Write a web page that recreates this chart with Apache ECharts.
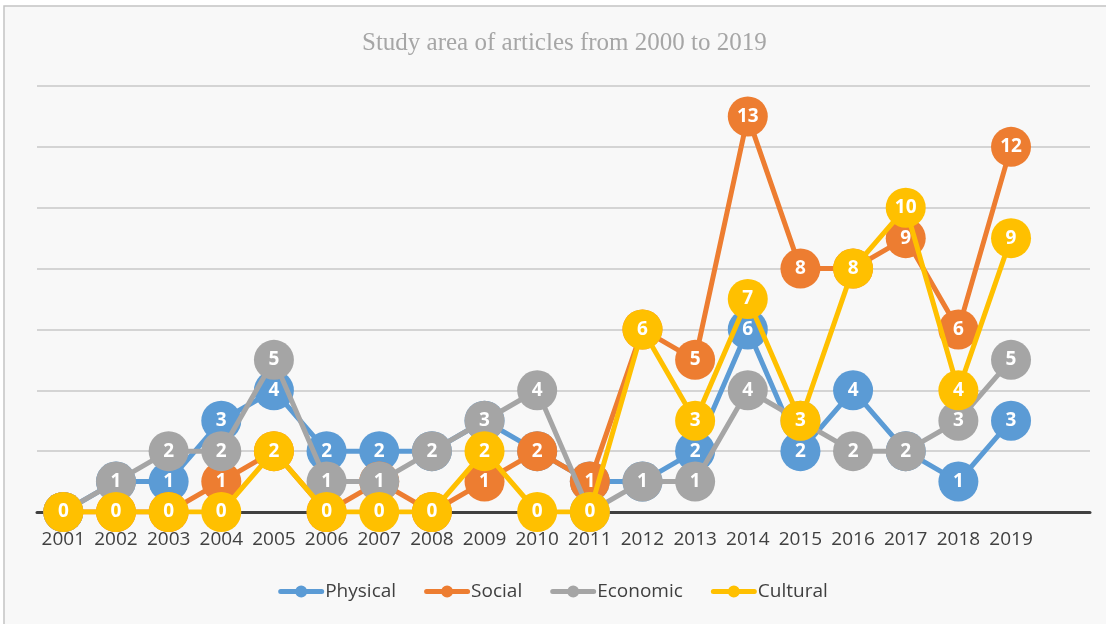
<!DOCTYPE html>
<html>
<head>
<meta charset="utf-8">
<script src="https://cdn.jsdelivr.net/npm/echarts@6/dist/echarts.min.js"></script>
<style>
  html, body { margin: 0; padding: 0; background: #ffffff; }
  #chart { width: 1106px; height: 624px; }
</style>
</head>
<body>
<div id="chart"></div>
<script>
// last slot is empty, the source chart leaves a gap on the right
const years = ['2001', '2002', '2003', '2004', '2005', '2006', '2007', '2008', '2009', '2010',
  '2011', '2012', '2013', '2014', '2015', '2016', '2017', '2018', '2019', ''];

const physical = [0, 1, 1, 3, 4, 2, 2, 2, 3, 2, 1, 1, 2, 6, 2, 4, 2, 1, 3];
const social   = [0, 0, 0, 1, 2, 0, 1, 0, 1, 2, 1, 6, 5, 13, 8, 8, 9, 6, 12];
const economic = [0, 1, 2, 2, 5, 1, 1, 2, 3, 4, 0, 1, 1, 4, 3, 2, 2, 3, 5];
const cultural = [0, 0, 0, 0, 2, 0, 0, 0, 2, 0, 0, 6, 3, 7, 3, 8, 10, 4, 9];

const seriesNames = ['Physical', 'Social', 'Economic', 'Cultural'];
const seriesColors = ['#5b9bd5', '#ed7d31', '#a5a5a5', '#ffc000'];
const seriesData = [physical, social, economic, cultural];

// thick line with a dot in the middle, like the excel legend
const legendIcon = 'path://M2.5,3.5 L43.5,3.5 A2.5,2.5 0 0 1 43.5,8.5 L2.5,8.5 A2.5,2.5 0 0 1 2.5,3.5 Z ' +
  'M17,6 A6,6 0 0 1 29,6 A6,6 0 0 1 17,6 Z';

let myChart = echarts.init(document.getElementById('chart'));

myChart.setOption({
  backgroundColor: '#ffffff',
  animation: false,
  graphic: [
    {
      type: 'rect',
      z: -10,
      shape: { x: 4, y: 6, width: 1110, height: 630 },
      style: { fill: '#f8f8f8', stroke: '#c4c4c4', lineWidth: 1.5 }
    }
  ],
  title: {
    text: 'Study area of articles from 2000 to 2019',
    left: 357,
    top: 26,
    textStyle: {
      fontFamily: 'Liberation Serif',
      fontWeight: 'normal',
      fontSize: 25,
      color: '#a6a6a6'
    }
  },
  legend: {
    bottom: 18,
    left: 'center',
    icon: legendIcon,
    itemWidth: 46,
    itemHeight: 12,
    itemGap: 28,
    lineStyle: { width: 5 },
    itemStyle: { borderWidth: 0 },
    data: seriesNames.map(n => ({ name: n, icon: legendIcon })),
    textStyle: {
      fontFamily: 'Open Sans',
      fontSize: 19,
      color: '#404040',
      padding: [0, 0, 0, -4]
    }
  },
  grid: {
    left: 37,
    right: 16,
    top: 86,
    bottom: 112
  },
  xAxis: {
    type: 'category',
    data: years,
    boundaryGap: true,
    axisLine: { lineStyle: { color: '#404040', width: 3 } },
    axisTick: { show: false },
    axisLabel: {
      interval: 0,
      margin: 18,
      fontFamily: 'Open Sans',
      fontSize: 19,
      color: '#404040'
    }
  },
  yAxis: {
    type: 'value',
    min: 0,
    max: 14,
    interval: 2,
    axisLine: { show: false },
    axisTick: { show: false },
    axisLabel: { show: false },
    splitLine: { lineStyle: { color: '#d4d4d4', width: 2 } }
  },
  series: seriesNames.map((name, i) => ({
    name: name,
    type: 'line',
    z: 2 + i,
    data: seriesData[i],
    symbol: 'circle',
    symbolSize: 40,
    color: seriesColors[i],
    lineStyle: { width: 5, color: seriesColors[i] },
    itemStyle: { color: seriesColors[i] },
    label: {
      show: true,
      position: 'inside',
      color: '#ffffff',
      fontFamily: 'Noto Sans',
      fontWeight: 'bold',
      fontSize: 19
    },
    emphasis: { disabled: true }
  }))
});
</script>
</body>
</html>
